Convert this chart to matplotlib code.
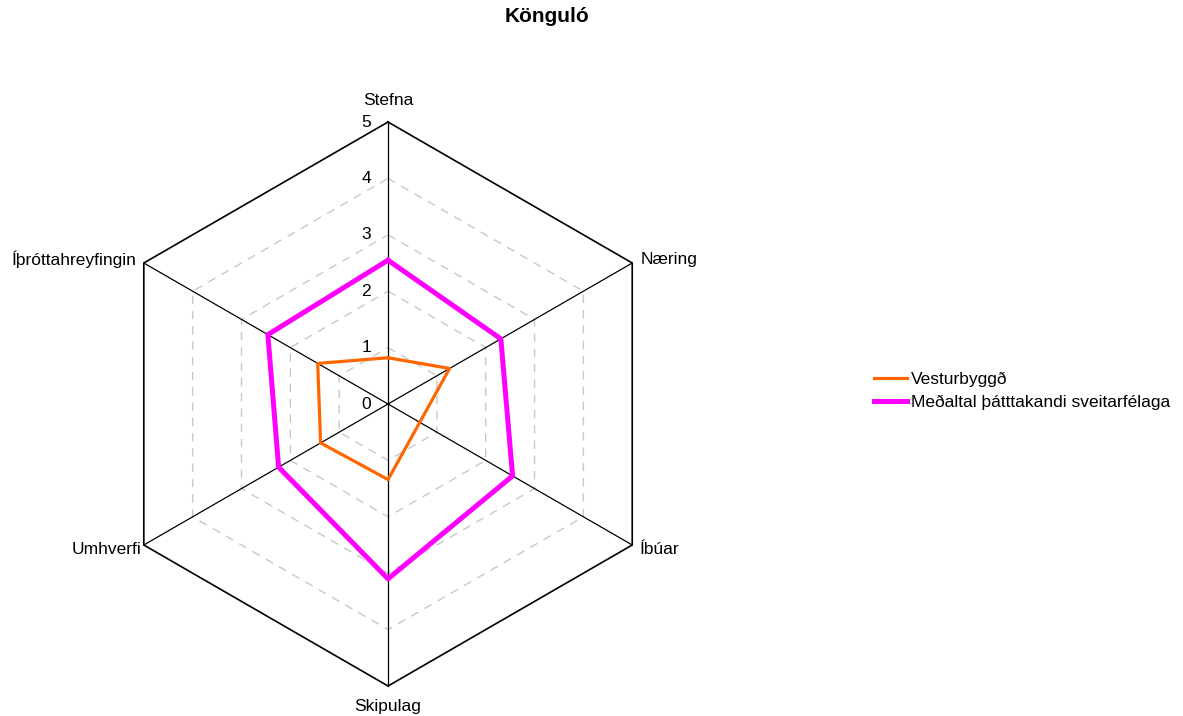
import numpy as np
import matplotlib.pyplot as plt

plt.rcParams['font.family'] = ['Liberation Sans', 'DejaVu Sans']

categories = ['Stefna', 'Næring', 'Íbúar', 'Skipulag', 'Umhverfi', 'Íþróttahreyfingin']
vesturbyggd = [0.82, 1.26, 0.65, 1.34, 1.38, 1.44]
medaltal = [2.55, 2.31, 2.55, 3.10, 2.24, 2.46]
levels = [0, 1, 2, 3, 4, 5]

angles = np.linspace(0, 2 * np.pi, len(categories), endpoint=False)
closed = np.append(angles, angles[0])

fig = plt.figure(figsize=(11.83, 7.16), dpi=100)
ax = fig.add_axes([0.0896, 0.0419, 0.4768, 0.7877], projection='polar')
ax.set_theta_offset(np.pi / 2)
ax.set_theta_direction(-1)
ax.set_ylim(0, 5)
ax.grid(False)
ax.set_xticks([])
ax.set_yticks([])
ax.spines['polar'].set_visible(False)

# hexagon grid
for lv in levels[1:-1]:
    ax.plot(closed, [lv] * len(closed), color='#c8c8c8', lw=1, ls=(0, (6, 5)), zorder=1)
ax.plot(closed, [5] * len(closed), color='black', lw=1.2, clip_on=False, zorder=2)
for a in angles:
    ax.plot([a, a], [0, 5], color='black', lw=0.9, clip_on=False, zorder=2)

# series
ax.plot(closed, vesturbyggd + vesturbyggd[:1], color='#ff6600', lw=2.3,
        label='Vesturbyggð', zorder=4, clip_on=False)
ax.plot(closed, medaltal + medaltal[:1], color='#ff00ff', lw=3.6,
        label='Meðaltal þátttakandi sveitarfélaga', zorder=3, clip_on=False)

# axis labels
offsets = [(0, 22, 'center'), (8, 4, 'left'), (8, -4, 'left'),
           (0, -21, 'center'), (-2, -4, 'right'), (-7, 4, 'right')]
for a, name, (dx, dy, ha) in zip(angles, categories, offsets):
    ax.annotate(name, (a, 5), xytext=(dx, dy), textcoords='offset pixels',
                ha=ha, va='center', fontsize=12.5, annotation_clip=False)

# value labels
for lv in levels:
    ax.annotate(str(lv), (0, lv), xytext=(-17, 0), textcoords='offset pixels',
                ha='right', va='center', fontsize=12.5, annotation_clip=False)

fig.text(547 / 1183, 1 - 17 / 716, 'Könguló', ha='center', va='center',
         fontsize=15, fontweight='bold')

ax.legend(loc='center left', bbox_to_anchor=(0.733, 0.454), bbox_transform=fig.transFigure,
          frameon=False, fontsize=12.5, handlelength=1.9, handletextpad=0.25,
          labelspacing=0.45, borderaxespad=0)

plt.savefig('out.png', dpi=100)
